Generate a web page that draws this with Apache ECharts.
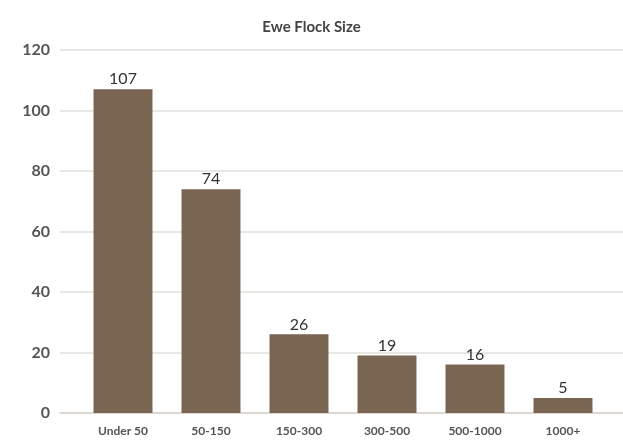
<!DOCTYPE html>
<html>
<head>
<meta charset="utf-8">
<script src="https://cdn.jsdelivr.net/npm/echarts@6/dist/echarts.min.js"></script>
<style>
  html, body { margin: 0; padding: 0; background: #fff; }
  #chart { width: 623px; height: 446px; }
</style>
</head>
<body>
<div id="chart"></div>
<script>
// Flock size buckets and the number of farms in each
const categories = ['Under 50', '50-150', '150-300', '300-500', '500-1000', '1000+'];
const farmCounts = [107, 74, 26, 19, 16, 5];
const yTicks = [0, 20, 40, 60, 80, 100, 120];

const font = 'Lato, "Open Sans", sans-serif';
const yMin = yTicks[0];
const yMax = yTicks[yTicks.length - 1];
const yStep = yTicks[1] - yTicks[0];
const chart = echarts.init(document.getElementById('chart'));

chart.setOption({
  backgroundColor: '#ffffff',
  animation: false,
  title: {
    text: 'Ewe Flock Size',
    left: 'center',
    top: 15,
    textStyle: { fontFamily: font, fontSize: 15, fontWeight: 'bold', color: '#444' }
  },
  // grid 0: full-width background with gridlines and the value labels
  // grid 1: the plotting area holding the bars
  grid: [
    { left: 60, right: 0, top: 50, bottom: 33 },
    { left: 79, right: 16, top: 50, bottom: 33 }
  ],
  xAxis: [
    {
      gridIndex: 0,
      type: 'value',
      min: 0,
      max: 1,
      axisLabel: { show: false },
      axisTick: { show: false },
      splitLine: { show: false },
      axisLine: { show: true, onZero: false, lineStyle: { color: '#d9d2cc', width: 1.5 } }
    },
    {
      gridIndex: 1,
      type: 'category',
      data: categories,
      axisTick: { show: false },
      axisLine: { show: false },
      axisLabel: { fontFamily: font, fontSize: 12, fontWeight: 'bold', color: '#555', margin: 12 }
    }
  ],
  yAxis: [
    {
      gridIndex: 0,
      type: 'value',
      min: yMin,
      max: yMax,
      interval: yStep,
      axisLine: { show: false },
      axisTick: { show: false },
      axisLabel: { fontFamily: font, fontSize: 16, fontWeight: 'bold', color: '#555', margin: 10 },
      splitLine: { lineStyle: { color: '#e3e0dd', width: 1.5 } }
    },
    {
      gridIndex: 1,
      type: 'value',
      min: yMin,
      max: yMax,
      interval: yStep,
      axisLine: { show: false },
      axisTick: { show: false },
      axisLabel: { show: false },
      splitLine: { show: false }
    }
  ],
  series: [{
    type: 'bar',
    xAxisIndex: 1,
    yAxisIndex: 1,
    data: farmCounts,
    barCategoryGap: '33%',
    itemStyle: { color: '#7a6553' },
    label: {
      show: true,
      position: 'top',
      distance: 2,
      fontFamily: font,
      fontSize: 16,
      color: '#333'
    }
  }]
});
</script>
</body>
</html>
